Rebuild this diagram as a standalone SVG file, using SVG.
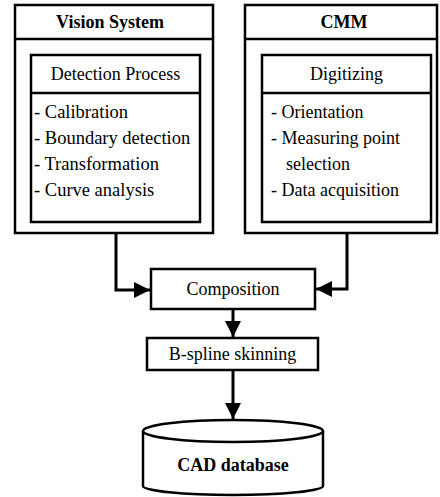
<svg xmlns="http://www.w3.org/2000/svg" width="440" height="497" viewBox="0 0 440 497">
<defs>
<style>
.box{fill:#fff;stroke:#000;stroke-width:2.5}
.ln{fill:none;stroke:#000;stroke-width:2.5}
.con{fill:none;stroke:#000;stroke-width:3}
text{font-family:'Liberation Serif','Times New Roman','DejaVu Serif',serif;font-size:18px;fill:#000}
.b{font-weight:bold}
.c{text-anchor:middle}
.l{font-size:18.5px}
</style>
<marker id="ah" viewBox="0 0 16 16" refX="16" refY="8" markerWidth="16" markerHeight="16" markerUnits="userSpaceOnUse" orient="auto">
<path d="M0,0 L16,8 L0,16 z" fill="#000"/>
</marker>
</defs>
<g id="vision">
<rect class="box" x="15" y="5" width="198" height="228"/>
<line class="ln" x1="15" y1="39" x2="213" y2="39"/>
<text class="b c" x="110" y="28">Vision System</text>
<rect class="box" x="31" y="55" width="169" height="167"/>
<line class="ln" x1="31" y1="93" x2="200" y2="93"/>
<text class="c" x="115.5" y="80" font-size="20">Detection Process</text>
<text class="l" x="34" y="118">- Calibration</text>
<text class="l" x="34" y="144">- Boundary detection</text>
<text class="l" x="34" y="170">- Transformation</text>
<text class="l" x="34" y="196">- Curve analysis</text>
</g>
<g id="cmm">
<rect class="box" x="245" y="5" width="192" height="228"/>
<line class="ln" x1="245" y1="39" x2="437" y2="39"/>
<text class="b c" x="344" y="28">CMM</text>
<rect class="box" x="262" y="55" width="169" height="167"/>
<line class="ln" x1="262" y1="93" x2="431" y2="93"/>
<text class="c" x="346.5" y="80">Digitizing</text>
<text x="271" y="118">- Orientation</text>
<text x="271" y="144">- Measuring point</text>
<text x="286" y="170">selection</text>
<text x="271" y="196">- Data acquisition</text>
</g>
<g id="composition">
<rect class="box" x="151" y="269" width="164" height="40"/>
<text class="c" x="233" y="295">Composition</text>
</g>
<g id="bspline">
<rect class="box" x="147" y="338" width="171" height="32"/>
<text class="c" x="232.5" y="360">B-spline skinning</text>
</g>
<g id="cad">
<path class="box" d="M143,431 V486 A90,9 0 0 0 323,486 V431"/>
<ellipse class="box" cx="233" cy="431" rx="90" ry="11"/>
<text class="b c" x="233" y="471">CAD database</text>
</g>
<g id="connectors">
<path class="con" d="M116,233 V290 H150" marker-end="url(#ah)"/>
<path class="con" d="M347,233 V289 H316" marker-end="url(#ah)"/>
<path class="con" d="M233,309 V337" marker-end="url(#ah)"/>
<path class="con" d="M233,370 V419" marker-end="url(#ah)"/>
</g>
</svg>
